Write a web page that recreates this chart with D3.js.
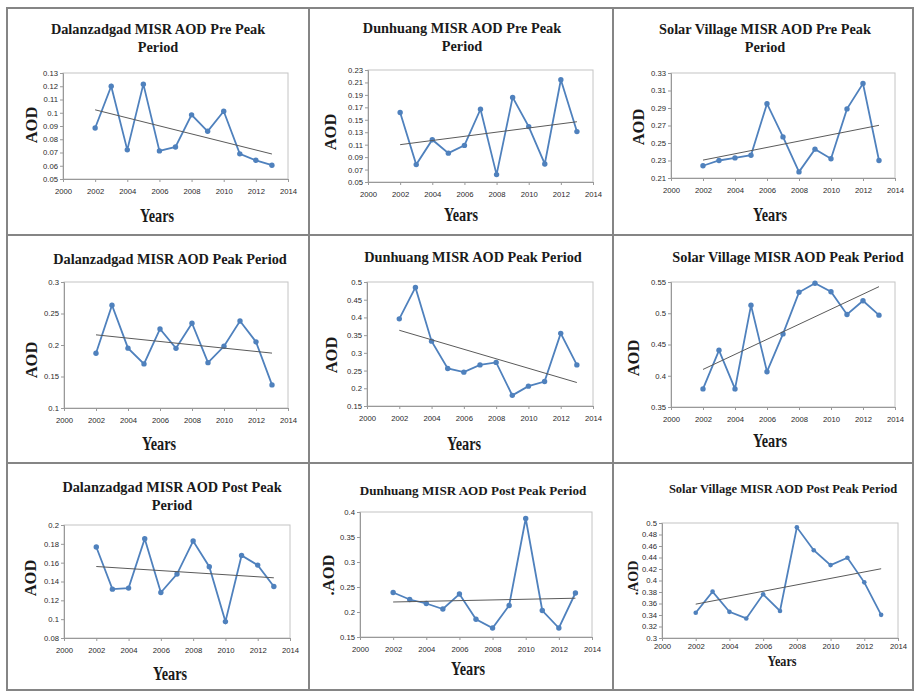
<!DOCTYPE html>
<html>
<head>
<meta charset="utf-8">
<script src="https://cdn.jsdelivr.net/npm/d3@7"></script>
<style>
  body { margin: 0; background: #fff; }
  svg { display: block; }
  .tick text { font-family: "Liberation Sans", Arial, sans-serif; font-size: 7.7px; fill: #2a2a2a; }
  .tick line { stroke: #999; }
</style>
</head>
<body>
<div id="app"></div>
<script>
// Data
const YEARS = [2002, 2003, 2004, 2005, 2006, 2007, 2008, 2009, 2010, 2011, 2012, 2013];
const X_TICKS = [2000, 2002, 2004, 2006, 2008, 2010, 2012, 2014];

const dalPre = [0.0885, 0.120, 0.072, 0.1216, 0.0712, 0.0742, 0.0984, 0.086, 0.1011, 0.069, 0.0641, 0.0604];
const dunPre = [0.1616, 0.078, 0.118, 0.0964, 0.1088, 0.167, 0.0619, 0.186, 0.139, 0.079, 0.2144, 0.131];
const solPre = [0.224, 0.230, 0.233, 0.236, 0.295, 0.257, 0.217, 0.243, 0.232, 0.289, 0.318, 0.230];
const dalPeak = [0.187, 0.263, 0.195, 0.170, 0.2255, 0.1947, 0.2346, 0.172, 0.198, 0.238, 0.205, 0.1367];
const dunPeak = [0.396, 0.4846, 0.333, 0.256, 0.2455, 0.266, 0.273, 0.180, 0.206, 0.219, 0.355, 0.266];
const solPeak = [0.379, 0.4407, 0.379, 0.5127, 0.4065, 0.467, 0.5335, 0.548, 0.5345, 0.498, 0.520, 0.497];
const dalPost = [0.1766, 0.1319, 0.133, 0.1855, 0.1283, 0.1479, 0.183, 0.1557, 0.0974, 0.1677, 0.1574, 0.1347];
const dunPost = [0.239, 0.225, 0.217, 0.206, 0.236, 0.1854, 0.168, 0.213, 0.387, 0.203, 0.168, 0.238];
const solPost = [0.344, 0.3807, 0.3455, 0.334, 0.376, 0.347, 0.4925, 0.4527, 0.4268, 0.4395, 0.3968, 0.3403];

const ticksDalPre = [0.05, 0.06, 0.07, 0.08, 0.09, 0.1, 0.11, 0.12, 0.13];
const ticksDunPre = [0.05, 0.07, 0.09, 0.11, 0.13, 0.15, 0.17, 0.19, 0.21, 0.23];
const ticksSolPre = [0.21, 0.23, 0.25, 0.27, 0.29, 0.31, 0.33];
const ticksDalPeak = [0.1, 0.15, 0.2, 0.25, 0.3];
const ticksDunPeak = [0.15, 0.2, 0.25, 0.3, 0.35, 0.4, 0.45, 0.5];
const ticksSolPeak = [0.35, 0.4, 0.45, 0.5, 0.55];
const ticksDalPost = [0.08, 0.1, 0.12, 0.14, 0.16, 0.18, 0.2];
const ticksDunPost = [0.15, 0.2, 0.25, 0.3, 0.35, 0.4];
const ticksSolPost = [0.3, 0.32, 0.34, 0.36, 0.38, 0.4, 0.42, 0.44, 0.46, 0.48, 0.5];

const TITLES = [
  ["Dalanzadgad MISR AOD Pre Peak", "Period"],
  ["Dunhuang MISR AOD Pre Peak", "Period"],
  ["Solar Village MISR AOD Pre Peak", "Period"],
  ["Dalanzadgad MISR AOD Peak Period"],
  ["Dunhuang MISR AOD Peak Period"],
  ["Solar Village MISR AOD Peak Period"],
  ["Dalanzadgad MISR  AOD Post Peak", "Period"],
  ["Dunhuang MISR AOD Post Peak Period"],
  ["Solar Village MISR AOD Post Peak Period"],
];
const Y_LABELS = ["AOD", "AOD", "AOD", "AOD", "AOD", "AOD", "AOD", ".AOD", ".AOD"];
const X_LABEL = "Years";

const SERIES = [dalPre, dunPre, solPre, dalPeak, dunPeak, solPeak, dalPost, dunPost, solPost];
const Y_TICKS = [ticksDalPre, ticksDunPre, ticksSolPre, ticksDalPeak, ticksDunPeak, ticksSolPeak, ticksDalPost, ticksDunPost, ticksSolPost];

// Layout of each panel (page pixels)
const LAYOUT = [
  { plot: [63, 288, 73, 179], title: [158, 34, 52], tSize: 14.3, years: [157, 222], yl: [37, 125] },
  { plot: [368, 593, 70, 182], title: [462, 33, 51], tSize: 14.3, years: [461, 221], yl: [336, 132] },
  { plot: [671, 895, 73, 178], title: [765, 34, 52], tSize: 14.3, years: [770, 221], yl: [644, 127] },
  { plot: [64, 288, 282, 408], title: [170, 264], tSize: 14.3, years: [159, 450], yl: [37, 360] },
  { plot: [367, 593, 282, 406], title: [473, 262], tSize: 14.3, years: [464, 450], yl: [337, 355] },
  { plot: [671, 895, 282, 407], title: [788, 262], tSize: 14.3, years: [770, 447], yl: [639, 358] },
  { plot: [64, 290, 525, 638], title: [172, 492, 510], tSize: 14.3, years: [170, 680], yl: [36, 578] },
  { plot: [360, 592, 512, 637], title: [473, 495], tSize: 13.1, years: [468, 675], yl: [334, 575] },
  { plot: [662, 898, 523, 638], title: [783, 493], tSize: 12.5, years: [782, 666], yl: [638, 578], small: true },
];

const WIDTH = 915;
const HEIGHT = 692;
const BLUE = "#4f81bd";
const SERIF = "'Liberation Serif', 'Times New Roman', serif";

const svg = d3.select("#app").append("svg").attr("width", WIDTH).attr("height", HEIGHT);

// Grid of panel frames
const COLS = [7, 309, 613, 913];
const ROWS = [8, 235, 463, 690];
const frame = svg.append("g").attr("stroke", "#858585").attr("stroke-width", 2).attr("fill", "none");
frame.append("rect").attr("x", COLS[0]).attr("y", ROWS[0])
  .attr("width", COLS[3] - COLS[0]).attr("height", ROWS[3] - ROWS[0]);
[COLS[1], COLS[2]].forEach((x) =>
  frame.append("line").attr("x1", x).attr("x2", x).attr("y1", ROWS[0]).attr("y2", ROWS[3]));
[ROWS[1], ROWS[2]].forEach((y) =>
  frame.append("line").attr("y1", y).attr("y2", y).attr("x1", COLS[0]).attr("x2", COLS[3]));

const fmt = d3.format(".2~f");

SERIES.forEach((values, i) => {
  const L = LAYOUT[i];
  const [x0, x1, y0, y1] = L.plot;
  const ticks = Y_TICKS[i];
  const g = svg.append("g");

  const x = d3.scaleLinear().domain([2000, 2014]).range([x0, x1]);
  const y = d3.scaleLinear().domain([ticks[0], ticks[ticks.length - 1]]).range([y1, y0]);

  // plot area border
  g.append("rect")
    .attr("x", x0).attr("y", y0).attr("width", x1 - x0).attr("height", y1 - y0)
    .attr("fill", "none").attr("stroke", "#c4c4c4");

  g.append("g")
    .attr("transform", `translate(0,${y1})`)
    .call(d3.axisBottom(x).tickValues(X_TICKS).tickFormat(d3.format("d")).tickSize(3).tickPadding(L.small ? 3 : 7))
    .call((a) => a.select(".domain").attr("stroke", "#999"));

  g.append("g")
    .attr("transform", `translate(${x0},0)`)
    .call(d3.axisLeft(y).tickValues(ticks).tickFormat(fmt).tickSize(3).tickPadding(2))
    .call((a) => a.select(".domain").attr("stroke", "#999"));

  // series line and markers
  const pts = YEARS.map((yr, k) => [yr, values[k]]);
  g.append("path")
    .datum(pts)
    .attr("fill", "none")
    .attr("stroke", BLUE)
    .attr("stroke-width", 1.8)
    .attr("d", d3.line().x((d) => x(d[0])).y((d) => y(d[1])));
  g.selectAll("circle")
    .data(pts)
    .join("circle")
    .attr("cx", (d) => x(d[0]))
    .attr("cy", (d) => y(d[1]))
    .attr("r", L.small ? 2.3 : 2.7)
    .attr("fill", BLUE);

  // linear trend line (least squares)
  const mx = d3.mean(YEARS);
  const my = d3.mean(values);
  const slope = d3.sum(YEARS, (yr, k) => (yr - mx) * (values[k] - my)) / d3.sum(YEARS, (yr) => (yr - mx) ** 2);
  const fit = (yr) => my + slope * (yr - mx);
  const xs = d3.extent(YEARS);
  g.append("line")
    .attr("x1", x(xs[0])).attr("y1", y(fit(xs[0])))
    .attr("x2", x(xs[1])).attr("y2", y(fit(xs[1])))
    .attr("stroke", "#5a5a5a").attr("stroke-width", 1);

  // title
  const title = g.append("text")
    .attr("text-anchor", "middle")
    .attr("font-family", SERIF)
    .attr("font-weight", "bold")
    .attr("font-size", L.tSize)
    .attr("fill", "#1a1a1a");
  TITLES[i].forEach((line, k) => {
    title.append("tspan").attr("x", L.title[0]).attr("y", L.title[1 + k]).text(line);
  });

  // axis labels
  g.append("text")
    .attr("x", L.years[0]).attr("y", L.years[1])
    .attr("text-anchor", "middle")
    .attr("font-family", SERIF).attr("font-weight", "bold")
    .attr("font-size", L.small ? 14 : 18)
    .attr("textLength", L.small ? 29 : 34)
    .attr("lengthAdjust", "spacingAndGlyphs")
    .attr("fill", "#1a1a1a")
    .text(X_LABEL);

  g.append("text")
    .attr("transform", `translate(${L.yl[0]},${L.yl[1]}) rotate(-90)`)
    .attr("text-anchor", "middle")
    .attr("font-family", SERIF).attr("font-weight", "bold")
    .attr("font-size", L.small ? 14 : 16.5)
    .attr("fill", "#1a1a1a")
    .text(Y_LABELS[i]);
});
</script>
</body>
</html>
